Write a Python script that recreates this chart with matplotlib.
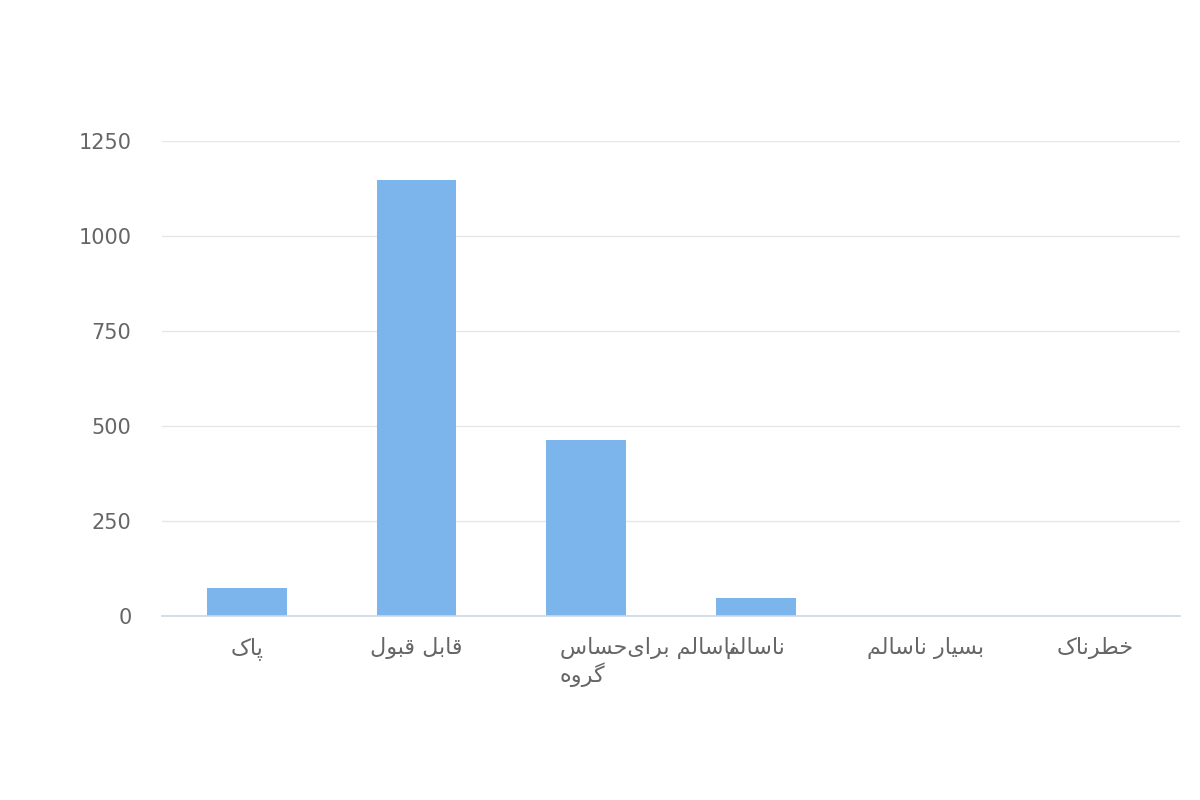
import matplotlib.pyplot as plt
import numpy as np

categories = ["پاک", "قابل قبول", "ناسالم برای\u200cحساس\nگروه", "ناسالم", "بسیار ناسالم", "خطرناک"]
counts = [75, 1148, 463, 47, 0, 0]
y_ticks = [0, 250, 500, 750, 1000, 1250]

# presentation forms: isolated, final, initial, medial
FORMS = {
    'ا': ('\uFE8D', '\uFE8E', None, None),
    'ب': ('\uFE8F', '\uFE90', '\uFE91', '\uFE92'),
    'پ': ('\uFB56', '\uFB57', '\uFB58', '\uFB59'),
    'ح': ('\uFEA1', '\uFEA2', '\uFEA3', '\uFEA4'),
    'خ': ('\uFEA5', '\uFEA6', '\uFEA7', '\uFEA8'),
    'ر': ('\uFEAD', '\uFEAE', None, None),
    'س': ('\uFEB1', '\uFEB2', '\uFEB3', '\uFEB4'),
    'ط': ('\uFEC1', '\uFEC2', '\uFEC3', '\uFEC4'),
    'ق': ('\uFED5', '\uFED6', '\uFED7', '\uFED8'),
    'ک': ('\uFB8E', '\uFB8F', '\uFB90', '\uFB91'),
    'گ': ('\uFB92', '\uFB93', '\uFB94', '\uFB95'),
    'ل': ('\uFEDD', '\uFEDE', '\uFEDF', '\uFEE0'),
    'م': ('\uFEE1', '\uFEE2', '\uFEE3', '\uFEE4'),
    'ن': ('\uFEE5', '\uFEE6', '\uFEE7', '\uFEE8'),
    'ه': ('\uFEE9', '\uFEEA', '\uFEEB', '\uFEEC'),
    'و': ('\uFEED', '\uFEEE', None, None),
    'ی': ('\uFBFC', '\uFBFD', '\uFBFE', '\uFBFF'),
}


def dual(c):
    return c in FORMS and FORMS[c][2] is not None


def shape_line(s):
    out = []
    for i, c in enumerate(s):
        if c not in FORMS:
            if c != '\u200c':
                out.append(c)
            continue
        prev = s[i - 1] if i > 0 else ''
        nxt = s[i + 1] if i + 1 < len(s) else ''
        jp = dual(prev)
        jn = dual(c) and nxt in FORMS
        iso, fin, ini, med = FORMS[c]
        if jp and jn:
            out.append(med)
        elif jp:
            out.append(fin)
        elif jn:
            out.append(ini)
        else:
            out.append(iso)
    return ''.join(out)[::-1]


def shape(s):
    return '\n'.join(shape_line(line) for line in s.split('\n'))


plt.rcParams['font.family'] = ['DejaVu Sans']
text_color = '#666666'

fig = plt.figure(figsize=(12, 8), dpi=100)
ax = fig.add_axes([0.135, 0.23, 0.8483, 0.5940])

x = np.arange(len(categories))
ax.bar(x, counts, width=0.47, color='#7cb5ec', zorder=2)

ax.set_xlim(-0.5, len(categories) - 0.5)
ax.set_ylim(0, 1251)
ax.set_yticks(y_ticks)
ax.set_yticklabels([str(v) for v in y_ticks])
ax.yaxis.grid(True, color='#e6e6e6', linewidth=1)
ax.set_axisbelow(True)

for side in ['top', 'right', 'left']:
    ax.spines[side].set_visible(False)
ax.spines['bottom'].set_color('#ccd6eb')
ax.spines['bottom'].set_linewidth(1.2)
ax.spines['bottom'].set_zorder(3)

ax.tick_params(axis='y', length=0, pad=22, labelsize=15, labelcolor=text_color)
ax.set_xticks([])

for i, lab in enumerate(categories):
    if '\n' in lab:
        ax.text(i - 0.155, -0.044, shape(lab), transform=ax.get_xaxis_transform(),
                ha='left', va='top', fontsize=16, color=text_color, linespacing=1.15)
    else:
        ax.text(i, -0.044, shape(lab), transform=ax.get_xaxis_transform(),
                ha='center', va='top', fontsize=16, color=text_color)

fig.savefig('out.png', dpi=100)
